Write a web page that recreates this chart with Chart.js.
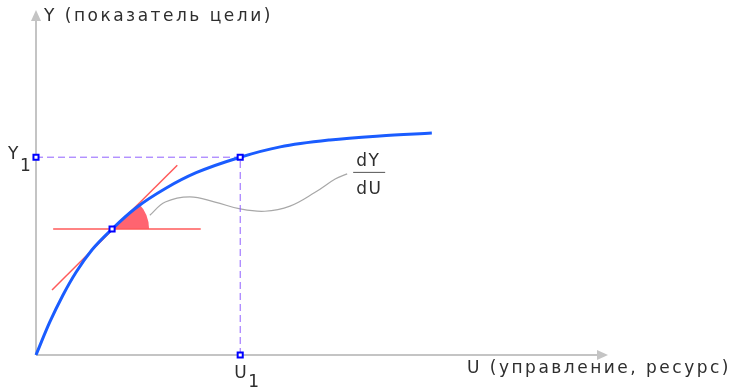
<!DOCTYPE html>
<html>
<head>
<meta charset="utf-8">
<script src="https://cdn.jsdelivr.net/npm/chart.js@4/dist/chart.umd.min.js"></script>
<style>
  html, body { margin: 0; padding: 0; background: #fff; }
  #wrap { width: 746px; height: 389px; }
</style>
</head>
<body>
<div id="wrap"><canvas id="chart" width="746" height="389"></canvas></div>
<script>
// кривая Y(U), точки
const curveU = [0, 0.24, 0.47, 0.70, 0.98, 1.33, 1.75, 2.27, 2.80, 3.57, 4.27, 5.14, 6.01, 6.92];
const curveY = [0, 0.57, 1.04, 1.44, 1.83, 2.19, 2.56, 2.90, 3.17, 3.44, 3.62, 3.74, 3.81, 3.86];

// рабочая точка U1 / Y1
const U1 = 3.57;
const Y1 = 3.44;

// точка касания и касательная
const tangentPoint = [1.33, 2.19];
const tangentU = [0.28, 2.47];
const tangentY = [1.13, 3.30];
const horizU = [0.30, 2.88];

// серая линия-выноска к dY/dU
const leaderU = [1.99, 2.26, 2.69, 3.13, 3.57, 4.00, 4.44, 4.88, 5.23, 5.44];
const leaderY = [2.43, 2.66, 2.75, 2.66, 2.54, 2.50, 2.59, 2.83, 3.06, 3.15];

const axisMaxU = 10;
const axisMaxY = 6;

const FONT = '17px "DejaVu Sans"';

function pts(xs, ys) {
    return xs.map((x, i) => ({ x: x, y: ys[i] }));
}

// оси со стрелками + красный сектор угла
const backdrop = {
    id: 'backdrop',
    beforeDatasetsDraw(chart) {
        const ctx = chart.ctx;
        const sx = chart.scales.x, sy = chart.scales.y;
        const x0 = sx.getPixelForValue(0), y0 = sy.getPixelForValue(0);
        const xe = sx.getPixelForValue(axisMaxU), ye = sy.getPixelForValue(axisMaxY);
        ctx.save();
        ctx.strokeStyle = '#c4c4c4';
        ctx.fillStyle = '#c4c4c4';
        ctx.lineWidth = 2;
        ctx.beginPath();
        ctx.moveTo(x0, y0); ctx.lineTo(xe - 8, y0);
        ctx.moveTo(x0, y0); ctx.lineTo(x0, ye + 8);
        ctx.stroke();
        ctx.beginPath();
        ctx.moveTo(xe, y0); ctx.lineTo(xe - 11, y0 - 5); ctx.lineTo(xe - 11, y0 + 5); ctx.closePath();
        ctx.fill();
        ctx.beginPath();
        ctx.moveTo(x0, ye); ctx.lineTo(x0 - 5, ye + 11); ctx.lineTo(x0 + 5, ye + 11); ctx.closePath();
        ctx.fill();

        // сектор угла наклона касательной
        const cx = sx.getPixelForValue(tangentPoint[0]);
        const cy = sy.getPixelForValue(tangentPoint[1]);
        const tx = sx.getPixelForValue(tangentU[1]) - cx;
        const ty = sy.getPixelForValue(tangentY[1]) - cy;
        const ang = Math.atan2(ty, tx);
        ctx.fillStyle = '#ff6470';
        ctx.beginPath();
        ctx.moveTo(cx, cy);
        ctx.arc(cx, cy, 37, ang, 0);
        ctx.closePath();
        ctx.fill();
        ctx.restore();
    }
};

// подписи
const labels = {
    id: 'labels',
    afterDatasetsDraw(chart) {
        const ctx = chart.ctx;
        const sx = chart.scales.x, sy = chart.scales.y;
        const x0 = sx.getPixelForValue(0), y0 = sy.getPixelForValue(0);
        const ye = sy.getPixelForValue(axisMaxY);
        const xu1 = sx.getPixelForValue(U1), yy1 = sy.getPixelForValue(Y1);
        ctx.save();
        ctx.fillStyle = '#2e2e2e';
        ctx.textBaseline = 'alphabetic';
        ctx.font = FONT;
        ctx.letterSpacing = '2.5px';
        ctx.textAlign = 'left';
        ctx.fillText('Y (показатель цели)', x0 + 8, ye + 11);

        ctx.textAlign = 'right';
        ctx.fillText('U (управление, ресурс)', 731, y0 + 18);

        ctx.letterSpacing = '0px';
        ctx.textAlign = 'left';
        // Y1
        ctx.fillText('Y', 8, yy1 + 2);
        ctx.fillText('1', 20, yy1 + 14);

        // U1
        ctx.fillText('U', xu1 - 6, y0 + 23);
        ctx.fillText('1', xu1 + 8, y0 + 32);

        // dY/dU
        const lx = sx.getPixelForValue(leaderU[leaderU.length - 1]) + 6;
        const ly = sy.getPixelForValue(leaderY[leaderY.length - 1]);
        ctx.letterSpacing = '1.5px';
        ctx.fillText('dY', lx + 3, ly - 8);
        ctx.fillText('dU', lx + 3, ly + 20);
        ctx.strokeStyle = '#555';
        ctx.lineWidth = 1;
        ctx.beginPath();
        ctx.moveTo(lx, ly - 1.5); ctx.lineTo(lx + 32, ly - 1.5);
        ctx.stroke();
        ctx.restore();
    }
};

const dashColor = '#9060ff';
const redColor = '#ff5a5a';
const markerStyle = {
    pointStyle: 'rect', pointRadius: 3.6, pointBorderColor: '#0000ff',
    pointBackgroundColor: '#fff', pointBorderWidth: 2
};

new Chart(document.getElementById('chart'), {
    type: 'scatter',
    data: {
        datasets: [
            {
                data: pts(leaderU, leaderY), showLine: true, borderColor: '#a8a8a8',
                borderWidth: 1.2, tension: 0.4, pointRadius: 0, order: 5
            },
            {
                data: [{ x: 0, y: Y1 }, { x: U1, y: Y1 }], showLine: true,
                borderColor: dashColor, borderWidth: 1, borderDash: [7, 4], pointRadius: 0, order: 4
            },
            {
                data: [{ x: U1, y: 0 }, { x: U1, y: Y1 }], showLine: true,
                borderColor: dashColor, borderWidth: 1, borderDash: [7, 4], pointRadius: 0, order: 4
            },
            {
                data: pts(tangentU, tangentY), showLine: true, borderColor: redColor,
                borderWidth: 1.5, pointRadius: 0, order: 3
            },
            {
                data: pts(horizU, [tangentPoint[1], tangentPoint[1]]), showLine: true,
                borderColor: redColor, borderWidth: 1.5, pointRadius: 0, order: 3
            },
            {
                data: pts(curveU, curveY), showLine: true, borderColor: '#1a5cff',
                borderWidth: 3, cubicInterpolationMode: 'monotone', pointRadius: 0, order: 2
            },
            Object.assign({
                data: [{ x: 0, y: Y1 }, { x: U1, y: Y1 }, { x: U1, y: 0 },
                       { x: tangentPoint[0], y: tangentPoint[1] }],
                showLine: false, order: 1
            }, markerStyle)
        ]
    },
    options: {
        responsive: false,
        animation: false,
        layout: { padding: { left: 36, right: 138, top: 10, bottom: 34 } },
        scales: {
            x: { type: 'linear', min: 0, max: axisMaxU, display: false },
            y: { type: 'linear', min: 0, max: axisMaxY, display: false }
        },
        plugins: { legend: { display: false }, tooltip: { enabled: false } },
        clip: false
    },
    plugins: [backdrop, labels]
});
</script>
</body>
</html>
